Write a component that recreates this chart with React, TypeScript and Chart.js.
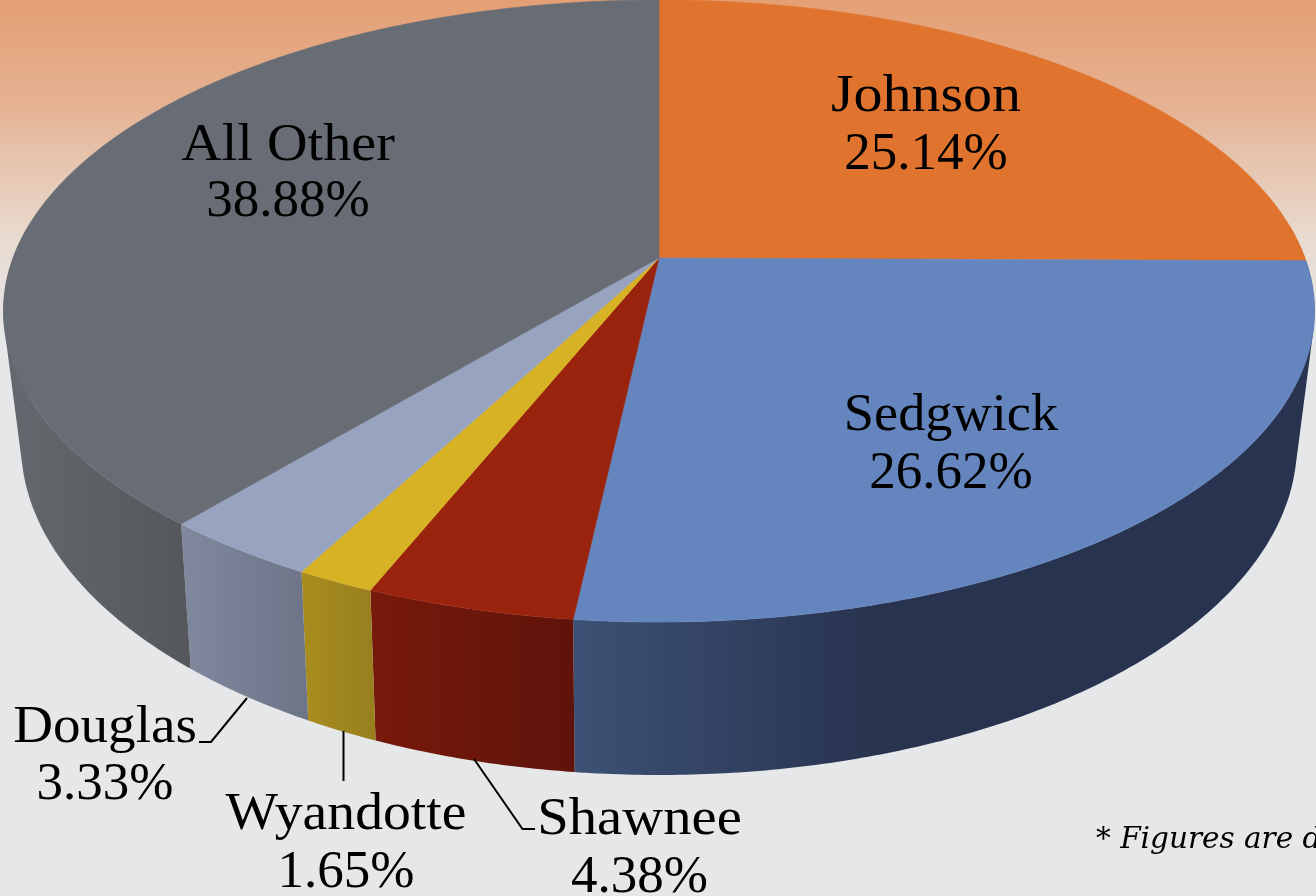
import React, { useEffect, useRef } from "react";
import { Chart, registerables } from "chart.js";

Chart.register(...registerables);

const categories = ["Johnson", "Sedgwick", "Shawnee", "Wyandotte", "Douglas", "All Other"];
const shares = [25.14, 26.62, 4.38, 1.65, 3.33, 38.88];
const footnote = "* Figures are d";

const topColors = ["#e0742e", "#6585bf", "#9a230e", "#d6b224", "#97a3bf", "#686d75"];
const wallStyles = [
  { from: "#a85722", to: "#a85722", x0: 659, x1: 1316 },
  { from: "#3c5175", to: "#28334f", x0: 575, x1: 880 },
  { from: "#771a0b", to: "#5f130a", x0: 370, x1: 575 },
  { from: "#a88c1e", to: "#977f1f", x0: 305, x1: 377 },
  { from: "#7f889d", to: "#6e7488", x0: 185, x1: 308 },
  { from: "#65696f", to: "#54585c", x0: 5, x1: 190 },
];
const labelSpots = [
  { x: 926, nameY: 111, valueY: 169, sx: 1.115 },
  { x: 951, nameY: 430, valueY: 488, sx: 1.045 },
  { x: 639.5, nameY: 834, valueY: 892, sx: 1.09 },
  { x: 346, nameY: 829, valueY: 887, sx: 1.07 },
  { x: 105, nameY: 742, valueY: 799, sx: 1.06 },
  { x: 288, nameY: 160, valueY: 216, sx: 1.08 },
];
const leaders = [
  [[247, 698], [211, 742], [199, 742]],
  [[343.5, 731], [343.5, 781]],
  [[474, 759], [522.5, 829], [535, 829]],
];

const topPlane = { cx: 659, cy: 258, a: 646, b: 302, k: 0.1704 };
const lowPlane = { cx: 659, cy: 384.4, a: 627.6, b: 320.3, k: 0.18 };

type Plane = typeof topPlane;
type Pt = [number, number];
function project(p: Plane, angle: number): Pt {
  const v = -Math.sin(angle);
  const w = 1 + p.k * v;
  return [p.cx + (p.a * Math.cos(angle)) / w, p.cy - (p.b * v) / w];
}
function addTriangle(ctx: CanvasRenderingContext2D, a: Pt, b: Pt, c: Pt) {
  const area = (b[0] - a[0]) * (c[1] - a[1]) - (b[1] - a[1]) * (c[0] - a[0]);
  const [q, r] = area >= 0 ? [b, c] : [c, b];
  ctx.moveTo(a[0], a[1]);
  ctx.lineTo(q[0], q[1]);
  ctx.lineTo(r[0], r[1]);
  ctx.closePath();
}

const pie3d = {
  id: "pie3d",
  beforeDatasetsDraw(chart: any) {
    const ctx: CanvasRenderingContext2D = chart.ctx;
    const arcs = chart.getDatasetMeta(0).data;
    const step = Math.PI / 360;
    ctx.save();
    ctx.lineWidth = 0.6;
    ctx.lineJoin = "round";
    arcs.forEach((arc: any, i: number) => {
      const s = wallStyles[i];
      const g = ctx.createLinearGradient(s.x0, 0, s.x1, 0);
      g.addColorStop(0, s.from);
      g.addColorStop(1, s.to);
      ctx.fillStyle = g;
      ctx.beginPath();
      for (let a = arc.startAngle; a < arc.endAngle; a += step) {
        const b = Math.min(a + step, arc.endAngle);
        if (-Math.sin(a) > 0.1 && -Math.sin(b) > 0.1) continue;
        const p1 = project(topPlane, a);
        const p2 = project(topPlane, b);
        const p3 = project(lowPlane, b);
        const p4 = project(lowPlane, a);
        addTriangle(ctx, p1, p2, p3);
        addTriangle(ctx, p1, p3, p4);
      }
      ctx.fill("nonzero");
    });
    arcs.forEach((arc: any, i: number) => {
      ctx.beginPath();
      ctx.moveTo(topPlane.cx, topPlane.cy);
      for (let a = arc.startAngle; a < arc.endAngle; a += step) {
        const p = project(topPlane, a);
        ctx.lineTo(p[0], p[1]);
      }
      const e = project(topPlane, arc.endAngle);
      ctx.lineTo(e[0], e[1]);
      ctx.closePath();
      ctx.fillStyle = topColors[i];
      ctx.strokeStyle = topColors[i];
      ctx.fill();
      ctx.stroke();
    });
    ctx.restore();
    return false;
  },
  afterDraw(chart: any) {
    const ctx: CanvasRenderingContext2D = chart.ctx;
    ctx.save();
    ctx.strokeStyle = "#000";
    ctx.lineWidth = 2;
    leaders.forEach((pts) => {
      ctx.beginPath();
      pts.forEach((p, j) => (j ? ctx.lineTo(p[0], p[1]) : ctx.moveTo(p[0], p[1])));
      ctx.stroke();
    });
    ctx.fillStyle = "#000";
    ctx.textAlign = "center";
    ctx.textBaseline = "alphabetic";
    const stretched = (text: string, x: number, y: number, sx: number) => {
      ctx.save();
      ctx.translate(x, y);
      ctx.scale(sx, 1);
      ctx.fillText(text, 0, 0);
      ctx.restore();
    };
    ctx.font = "52px 'Liberation Serif'";
    categories.forEach((name, i) => {
      const s = labelSpots[i];
      stretched(name, s.x, s.nameY, s.sx);
      stretched(shares[i].toFixed(2) + "%", s.x, s.valueY, 1.02);
    });
    ctx.textAlign = "left";
    ctx.font = "italic 29.5px 'DejaVu Serif'";
    ctx.fillText(footnote, 1096, 848);
    ctx.restore();
  },
};

export default function App() {
  const ref = useRef<HTMLCanvasElement>(null);
  useEffect(() => {
    const chart = new Chart(ref.current!, {
      type: "pie",
      data: {
        labels: categories,
        datasets: [{ data: shares, backgroundColor: topColors, borderWidth: 0 }],
      },
      options: {
        animation: false,
        responsive: false,
        plugins: { legend: { display: false }, tooltip: { enabled: false } },
      },
      plugins: [pie3d],
    } as any);
    return () => chart.destroy();
  }, []);
  return (
    <div
      style={{
        position: "absolute",
        left: 0,
        top: 0,
        width: 1316,
        height: 896,
        overflow: "hidden",
        background:
          "linear-gradient(180deg, #e49f74 0px, #e5b293 107px, #e6c4ad 160px, #e9dbd0 240px, #e7e4e2 310px, #e6e7e8 340px, #e6e7e8 896px)",
      }}
    >
      <canvas ref={ref} width={1316} height={896} style={{ display: "block" }} />
    </div>
  );
}
